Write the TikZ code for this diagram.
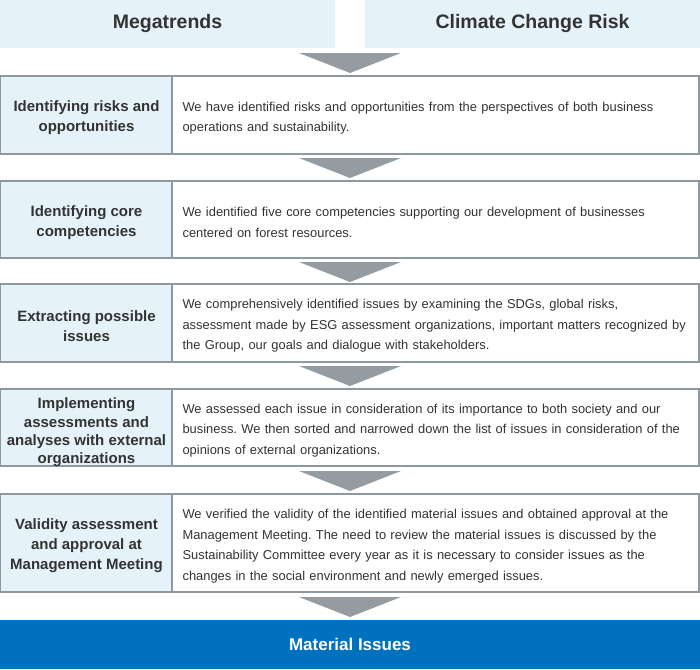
\documentclass[tikz,border=0pt]{standalone}
\usepackage{fontspec}
\setmainfont{Liberation Sans}
\frenchspacing
\definecolor{lb}{HTML}{E5F2F9}
\definecolor{bd}{HTML}{8F989E}
\definecolor{ar}{HTML}{949CA1}
\definecolor{bl}{HTML}{0071BF}
\definecolor{tx}{HTML}{333333}
\tikzset{
  hdr/.style={fill=lb, minimum width=335pt, minimum height=48pt, inner sep=0pt, text=tx, font=\fontsize{19.5}{22}\selectfont\bfseries},
  lbox/.style={draw=bd, fill=lb, line width=1.3pt, minimum width=172pt, inner sep=0pt},
  rbox/.style={draw=bd, fill=white, line width=1.3pt, minimum width=527pt, inner sep=0pt},
  ltext/.style={inner sep=0pt, align=center, text=tx, font=\fontsize{15}{20}\selectfont\bfseries},
  rtext/.style={inner sep=0pt, text width=510pt, align=left, text=tx, font=\fontsize{12.9}{20.5}\selectfont},
  tri/.style={fill=ar},
  final/.style={fill=bl, minimum width=700pt, minimum height=49pt, inner sep=0pt, text=white, font=\fontsize{17}{20}\selectfont\bfseries}
}
\newcommand{\downtri}[1]{\fill[tri] (299,#1) -- (401,#1) -- (350,#1+20) -- cycle;}
\begin{document}
\begin{tikzpicture}[x=1pt,y=-1pt]
\useasboundingbox (0,0) rectangle (700,669);
\node[hdr] (h1) at (167.5,24) {Megatrends};
\node[hdr] (h2) at (532.5,24) {Climate Change Risk};
\downtri{53}
% row 1
\node[lbox, minimum height=78pt] (l1) at (86.5,115) {};
\node[rbox, minimum height=78pt] (r1) at (435.5,115) {};
\node[ltext] (l1t) at ([yshift=-3pt]l1.center) {Identifying risks and\\opportunities};
\node[rtext, anchor=west] (r1t) at ([xshift=11pt,yshift=-3pt]r1.west) {We have identified risks and opportunities from the perspectives of both business\\operations and sustainability.};
\downtri{158}
% row 2
\node[lbox, minimum height=77pt] (l2) at (86.5,219.5) {};
\node[rbox, minimum height=77pt] (r2) at (435.5,219.5) {};
\node[ltext] (l2t) at ([yshift=-3pt]l2.center) {Identifying core\\competencies};
\node[rtext, anchor=west] (r2t) at ([xshift=11pt,yshift=-3pt]r2.west) {We identified five core competencies supporting our development of businesses\\centered on forest resources.};
\downtri{262}
% row 3
\node[lbox, minimum height=78pt] (l3) at (86.5,323) {};
\node[rbox, minimum height=78pt] (r3) at (435.5,323) {};
\node[ltext] (l3t) at ([yshift=-3pt]l3.center) {Extracting possible\\issues};
\node[rtext, anchor=west] (r3t) at ([xshift=11pt,yshift=-3pt]r3.west) {We comprehensively identified issues by examining the SDGs, global risks,\\assessment made by ESG assessment organizations, important matters recognized by\\the Group, our goals and dialogue with stakeholders.};
\downtri{366}
% row 4
\node[lbox, minimum height=77pt] (l4) at (86.5,427.5) {};
\node[rbox, minimum height=77pt] (r4) at (435.5,427.5) {};
\node[ltext, font=\fontsize{15}{18.3}\selectfont\bfseries] (l4t) at ([yshift=-5pt]l4.center) {Implementing\\assessments and\\analyses with external\\organizations};
\node[rtext, anchor=west] (r4t) at ([xshift=11pt,yshift=-3pt]r4.west) {We assessed each issue in consideration of its importance to both society and our\\business. We then sorted and narrowed down the list of issues in consideration of the\\opinions of external organizations.};
\downtri{471}
% row 5
\node[lbox, minimum height=98pt] (l5) at (86.5,543) {};
\node[rbox, minimum height=98pt] (r5) at (435.5,543) {};
\node[ltext] (l5t) at ([yshift=-3pt]l5.center) {Validity assessment\\and approval at\\Management Meeting};
\node[rtext, anchor=west] (r5t) at ([xshift=11pt,yshift=-3pt]r5.west) {We verified the validity of the identified material issues and obtained approval at the\\Management Meeting. The need to review the material issues is discussed by the\\Sustainability Committee every year as it is necessary to consider issues as the\\changes in the social environment and newly emerged issues.};
\downtri{597}
\node[final] (mi) at (350,644.5) {Material Issues};
\end{tikzpicture}
\end{document}
